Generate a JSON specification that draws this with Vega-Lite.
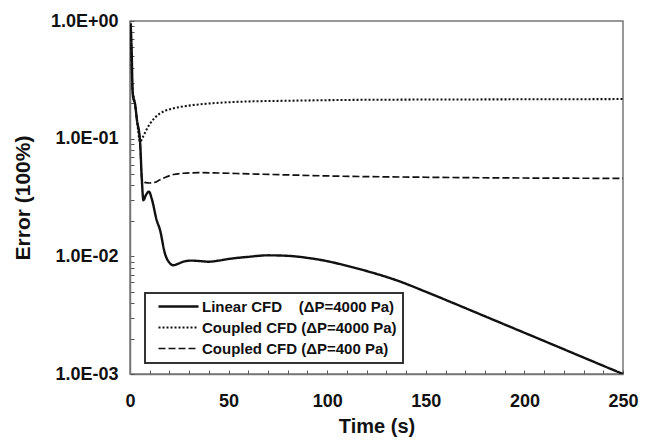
{
  "$schema": "https://vega.github.io/schema/vega-lite/v6.json",
  "width": 493,
  "height": 353,
  "autosize": {"type": "none"},
  "padding": {"left": 130, "top": 21, "right": 28, "bottom": 66},
  "background": "white",
  "config": {
    "font": "Liberation Sans",
    "view": {"stroke": "#777", "strokeWidth": 1.5},
    "legend": {"strokeWidth": 2, "labelFontWeight": "bold", "labelLimit": 400},
    "axis": {"grid": false, "domainColor": "#777", "domainWidth": 1.5, "tickColor": "#555", "tickWidth": 1, "labelFont": "Liberation Sans", "titleFont": "Liberation Sans", "labelFontWeight": "bold", "titleFontWeight": "bold", "labelColor": "#111", "titleColor": "#111"}
  },
  "data": {"values": [
    {"t": 0.3, "err": 0.95, "series": "Linear CFD\u00a0\u00a0\u00a0 (ΔP=4000 Pa)"},
    {"t": 0.8, "err": 0.6, "series": "Linear CFD\u00a0\u00a0\u00a0 (ΔP=4000 Pa)"},
    {"t": 1.3, "err": 0.26, "series": "Linear CFD\u00a0\u00a0\u00a0 (ΔP=4000 Pa)"},
    {"t": 1.7, "err": 0.22, "series": "Linear CFD\u00a0\u00a0\u00a0 (ΔP=4000 Pa)"},
    {"t": 2.5, "err": 0.2, "series": "Linear CFD\u00a0\u00a0\u00a0 (ΔP=4000 Pa)"},
    {"t": 3.5, "err": 0.145, "series": "Linear CFD\u00a0\u00a0\u00a0 (ΔP=4000 Pa)"},
    {"t": 5.1, "err": 0.094, "series": "Linear CFD\u00a0\u00a0\u00a0 (ΔP=4000 Pa)"},
    {"t": 6.0, "err": 0.045, "series": "Linear CFD\u00a0\u00a0\u00a0 (ΔP=4000 Pa)"},
    {"t": 6.8, "err": 0.03, "series": "Linear CFD\u00a0\u00a0\u00a0 (ΔP=4000 Pa)"},
    {"t": 8.0, "err": 0.033, "series": "Linear CFD\u00a0\u00a0\u00a0 (ΔP=4000 Pa)"},
    {"t": 9.6, "err": 0.0355, "series": "Linear CFD\u00a0\u00a0\u00a0 (ΔP=4000 Pa)"},
    {"t": 11.0, "err": 0.031, "series": "Linear CFD\u00a0\u00a0\u00a0 (ΔP=4000 Pa)"},
    {"t": 13.5, "err": 0.0204, "series": "Linear CFD\u00a0\u00a0\u00a0 (ΔP=4000 Pa)"},
    {"t": 15.2, "err": 0.0168, "series": "Linear CFD\u00a0\u00a0\u00a0 (ΔP=4000 Pa)"},
    {"t": 17.7, "err": 0.0106, "series": "Linear CFD\u00a0\u00a0\u00a0 (ΔP=4000 Pa)"},
    {"t": 20.3, "err": 0.0087, "series": "Linear CFD\u00a0\u00a0\u00a0 (ΔP=4000 Pa)"},
    {"t": 22, "err": 0.0084, "series": "Linear CFD\u00a0\u00a0\u00a0 (ΔP=4000 Pa)"},
    {"t": 24, "err": 0.0086, "series": "Linear CFD\u00a0\u00a0\u00a0 (ΔP=4000 Pa)"},
    {"t": 27, "err": 0.009, "series": "Linear CFD\u00a0\u00a0\u00a0 (ΔP=4000 Pa)"},
    {"t": 31, "err": 0.0092, "series": "Linear CFD\u00a0\u00a0\u00a0 (ΔP=4000 Pa)"},
    {"t": 36, "err": 0.0091, "series": "Linear CFD\u00a0\u00a0\u00a0 (ΔP=4000 Pa)"},
    {"t": 40, "err": 0.009, "series": "Linear CFD\u00a0\u00a0\u00a0 (ΔP=4000 Pa)"},
    {"t": 45, "err": 0.0092, "series": "Linear CFD\u00a0\u00a0\u00a0 (ΔP=4000 Pa)"},
    {"t": 50, "err": 0.0095, "series": "Linear CFD\u00a0\u00a0\u00a0 (ΔP=4000 Pa)"},
    {"t": 60, "err": 0.0099, "series": "Linear CFD\u00a0\u00a0\u00a0 (ΔP=4000 Pa)"},
    {"t": 70, "err": 0.0102, "series": "Linear CFD\u00a0\u00a0\u00a0 (ΔP=4000 Pa)"},
    {"t": 80, "err": 0.0101, "series": "Linear CFD\u00a0\u00a0\u00a0 (ΔP=4000 Pa)"},
    {"t": 90, "err": 0.0097, "series": "Linear CFD\u00a0\u00a0\u00a0 (ΔP=4000 Pa)"},
    {"t": 100, "err": 0.0091, "series": "Linear CFD\u00a0\u00a0\u00a0 (ΔP=4000 Pa)"},
    {"t": 110, "err": 0.0083, "series": "Linear CFD\u00a0\u00a0\u00a0 (ΔP=4000 Pa)"},
    {"t": 120, "err": 0.0075, "series": "Linear CFD\u00a0\u00a0\u00a0 (ΔP=4000 Pa)"},
    {"t": 137, "err": 0.0061, "series": "Linear CFD\u00a0\u00a0\u00a0 (ΔP=4000 Pa)"},
    {"t": 150, "err": 0.005, "series": "Linear CFD\u00a0\u00a0\u00a0 (ΔP=4000 Pa)"},
    {"t": 165, "err": 0.00394, "series": "Linear CFD\u00a0\u00a0\u00a0 (ΔP=4000 Pa)"},
    {"t": 177.5, "err": 0.00322, "series": "Linear CFD\u00a0\u00a0\u00a0 (ΔP=4000 Pa)"},
    {"t": 195, "err": 0.00243, "series": "Linear CFD\u00a0\u00a0\u00a0 (ΔP=4000 Pa)"},
    {"t": 215, "err": 0.00176, "series": "Linear CFD\u00a0\u00a0\u00a0 (ΔP=4000 Pa)"},
    {"t": 230, "err": 0.00138, "series": "Linear CFD\u00a0\u00a0\u00a0 (ΔP=4000 Pa)"},
    {"t": 250, "err": 0.001, "series": "Linear CFD\u00a0\u00a0\u00a0 (ΔP=4000 Pa)"},

    {"t": 0.3, "err": 0.95, "series": "Coupled CFD (ΔP=4000 Pa)"},
    {"t": 1.3, "err": 0.26, "series": "Coupled CFD (ΔP=4000 Pa)"},
    {"t": 2.5, "err": 0.2, "series": "Coupled CFD (ΔP=4000 Pa)"},
    {"t": 3.5, "err": 0.145, "series": "Coupled CFD (ΔP=4000 Pa)"},
    {"t": 5.1, "err": 0.094, "series": "Coupled CFD (ΔP=4000 Pa)"},
    {"t": 6.5, "err": 0.103, "series": "Coupled CFD (ΔP=4000 Pa)"},
    {"t": 8, "err": 0.116, "series": "Coupled CFD (ΔP=4000 Pa)"},
    {"t": 10, "err": 0.133, "series": "Coupled CFD (ΔP=4000 Pa)"},
    {"t": 12.5, "err": 0.15, "series": "Coupled CFD (ΔP=4000 Pa)"},
    {"t": 15, "err": 0.163, "series": "Coupled CFD (ΔP=4000 Pa)"},
    {"t": 18, "err": 0.173, "series": "Coupled CFD (ΔP=4000 Pa)"},
    {"t": 22, "err": 0.181, "series": "Coupled CFD (ΔP=4000 Pa)"},
    {"t": 27, "err": 0.188, "series": "Coupled CFD (ΔP=4000 Pa)"},
    {"t": 32, "err": 0.193, "series": "Coupled CFD (ΔP=4000 Pa)"},
    {"t": 40, "err": 0.199, "series": "Coupled CFD (ΔP=4000 Pa)"},
    {"t": 56, "err": 0.206, "series": "Coupled CFD (ΔP=4000 Pa)"},
    {"t": 80, "err": 0.21, "series": "Coupled CFD (ΔP=4000 Pa)"},
    {"t": 106, "err": 0.213, "series": "Coupled CFD (ΔP=4000 Pa)"},
    {"t": 150, "err": 0.215, "series": "Coupled CFD (ΔP=4000 Pa)"},
    {"t": 200, "err": 0.216, "series": "Coupled CFD (ΔP=4000 Pa)"},
    {"t": 250, "err": 0.217, "series": "Coupled CFD (ΔP=4000 Pa)"},

    {"t": 0.3, "err": 0.95, "series": "Coupled CFD (ΔP=400 Pa)"},
    {"t": 1.3, "err": 0.26, "series": "Coupled CFD (ΔP=400 Pa)"},
    {"t": 2.5, "err": 0.2, "series": "Coupled CFD (ΔP=400 Pa)"},
    {"t": 3.5, "err": 0.145, "series": "Coupled CFD (ΔP=400 Pa)"},
    {"t": 5.1, "err": 0.094, "series": "Coupled CFD (ΔP=400 Pa)"},
    {"t": 6.0, "err": 0.046, "series": "Coupled CFD (ΔP=400 Pa)"},
    {"t": 7.5, "err": 0.0425, "series": "Coupled CFD (ΔP=400 Pa)"},
    {"t": 10, "err": 0.042, "series": "Coupled CFD (ΔP=400 Pa)"},
    {"t": 12.5, "err": 0.0425, "series": "Coupled CFD (ΔP=400 Pa)"},
    {"t": 15, "err": 0.0445, "series": "Coupled CFD (ΔP=400 Pa)"},
    {"t": 18, "err": 0.047, "series": "Coupled CFD (ΔP=400 Pa)"},
    {"t": 22, "err": 0.0496, "series": "Coupled CFD (ΔP=400 Pa)"},
    {"t": 27, "err": 0.0508, "series": "Coupled CFD (ΔP=400 Pa)"},
    {"t": 35, "err": 0.0514, "series": "Coupled CFD (ΔP=400 Pa)"},
    {"t": 45, "err": 0.0511, "series": "Coupled CFD (ΔP=400 Pa)"},
    {"t": 60, "err": 0.0502, "series": "Coupled CFD (ΔP=400 Pa)"},
    {"t": 80, "err": 0.0492, "series": "Coupled CFD (ΔP=400 Pa)"},
    {"t": 101, "err": 0.0482, "series": "Coupled CFD (ΔP=400 Pa)"},
    {"t": 150, "err": 0.047, "series": "Coupled CFD (ΔP=400 Pa)"},
    {"t": 200, "err": 0.0463, "series": "Coupled CFD (ΔP=400 Pa)"},
    {"t": 250, "err": 0.046, "series": "Coupled CFD (ΔP=400 Pa)"}
  ]},
  "mark": {"type": "line", "color": "#111", "interpolate": "monotone", "clip": true},
  "encoding": {
    "x": {
      "field": "t", "type": "quantitative",
      "scale": {"domain": [0, 250], "nice": false},
      "axis": {
        "title": "Time (s)", "titleFontSize": 20, "titlePadding": 6,
        "values": [0,10,20,30,40,50,60,70,80,90,100,110,120,130,140,150,160,170,180,190,200,210,220,230,240,250],
        "labelExpr": "datum.value % 50 == 0 ? datum.label : ''",
        "labelFontSize": 18, "labelPadding": 22, "tickSize": -4, "labelFlush": false, "labelOverlap": false
      }
    },
    "y": {
      "field": "err", "type": "quantitative",
      "scale": {"type": "log", "domain": [0.001, 1], "nice": false},
      "axis": {
        "title": "Error (100%)", "titleFontSize": 21, "titlePadding": 17,
        "values": [0.001,0.002,0.003,0.004,0.005,0.006,0.007,0.008,0.009,0.01,0.02,0.03,0.04,0.05,0.06,0.07,0.08,0.09,0.1,0.2,0.3,0.4,0.5,0.6,0.7,0.8,0.9,1],
        "labelExpr": "datum.value == 1 ? '1.0E+00' : datum.value == 0.1 ? '1.0E-01' : datum.value == 0.01 ? '1.0E-02' : datum.value == 0.001 ? '1.0E-03' : ''",
        "labelFontSize": 18, "labelPadding": 16, "tickSize": -4, "labelFlush": false, "labelOverlap": false
      }
    },
    "strokeDash": {
      "field": "series", "type": "nominal",
      "scale": {"domain": ["Linear CFD\u00a0\u00a0\u00a0 (ΔP=4000 Pa)", "Coupled CFD (ΔP=4000 Pa)", "Coupled CFD (ΔP=400 Pa)"], "range": [[1, 0], [2, 2], [7, 3]]},
      "legend": {
        "title": null, "orient": "none", "legendX": 15, "legendY": 272,
        "symbolType": "M0,0H20", "symbolSize": 16, "symbolStrokeColor": "#111", "symbolStrokeWidth": 2,
        "labelFont": "Liberation Sans", "labelFontWeight": "bold", "labelFontSize": 15, "labelColor": "#111", "labelLimit": 400,
        "labelOffset": 36, "rowPadding": 5,
        "strokeColor": "#333", "fillColor": "white", "padding": 6
      }
    },
    "strokeWidth": {
      "field": "series", "type": "nominal",
      "scale": {"domain": ["Linear CFD\u00a0\u00a0\u00a0 (ΔP=4000 Pa)", "Coupled CFD (ΔP=4000 Pa)", "Coupled CFD (ΔP=400 Pa)"], "range": [2.4, 1.7, 2.2]},
      "legend": null
    },
    "order": {"field": "t", "type": "quantitative"}
  }
}
